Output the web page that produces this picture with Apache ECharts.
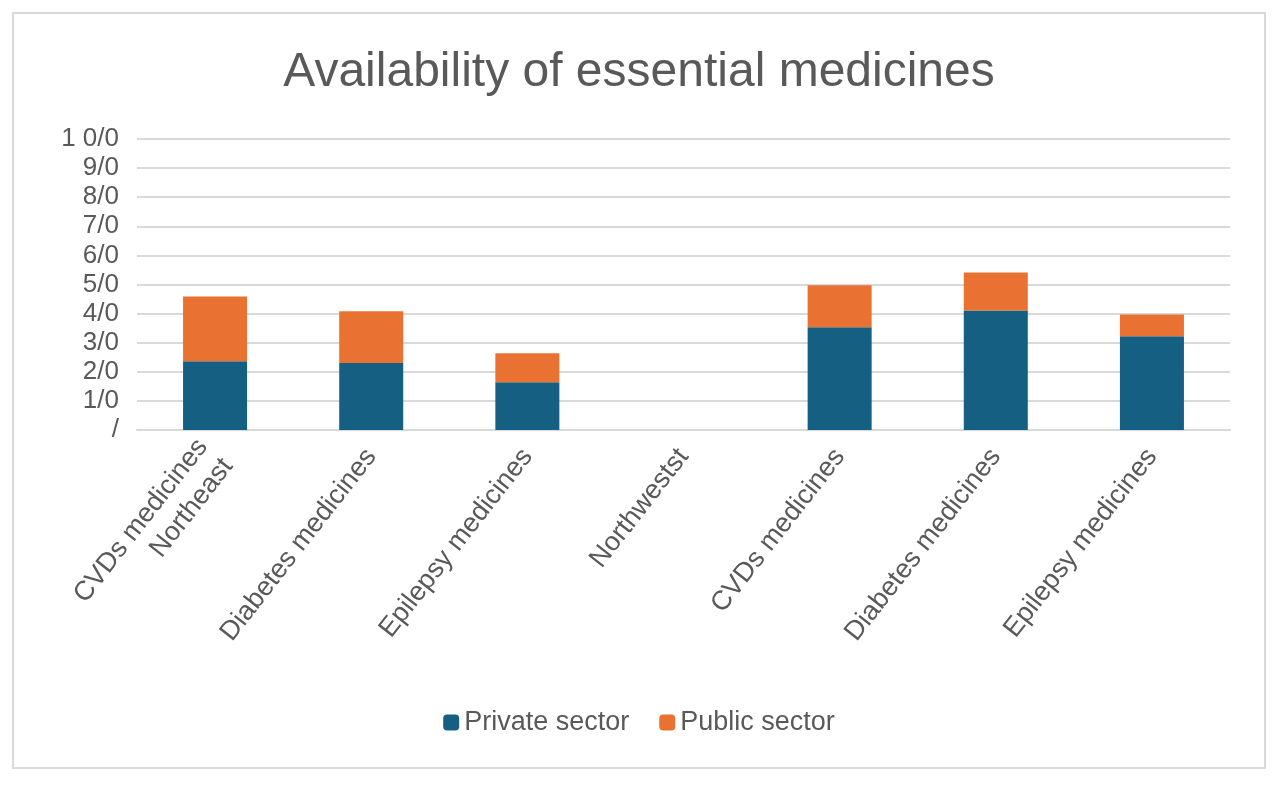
<!DOCTYPE html>
<html lang="en">
<head>
    <meta charset="utf-8">
    <title>Availability of essential medicines</title>
    <script src="https://cdn.jsdelivr.net/npm/echarts@6/dist/echarts.min.js"></script>
    <style>
        body { margin: 0; background: #fff; }
        #container { position: absolute; left: 12px; top: 12px; width: 1254px; height: 757px; border: 2px solid #d9d9d9; box-sizing: border-box; }
    </style>
</head>
<body>
<div id="container"></div>
<script>
    const categories = ["CVDs medicines\nNortheast", "Diabetes medicines", "Epilepsy medicines", "Northwestst",
        "CVDs medicines", "Diabetes medicines", "Epilepsy medicines"];
    const privateSector = [23.6, 23.0, 16.4, null, 35.3, 41.1, 32.2];
    const publicSector = [22.3, 17.8, 10.0, null, 14.4, 13.0, 7.5];
    const tickLabels = ["/", "1/0", "2/0", "3/0", "4/0", "5/0", "6/0", "7/0", "8/0", "9/0", "1 0/0"];

    const option = {
        animation: false,
        textStyle: { fontFamily: "Liberation Sans, Arial, sans-serif" },
        title: {
            text: "Availability of essential medicines",
            left: "center",
            top: 30,
            textStyle: { fontSize: 48, fontWeight: "normal", color: "#595959" }
        },
        legend: {
            bottom: 26,
            itemWidth: 16,
            itemHeight: 16,
            itemGap: 30,
            textStyle: { fontSize: 27, color: "#595959" },
            data: ["Private sector", "Public sector"]
        },
        grid: { left: 123, right: 34, top: 125, bottom: 337 },
        xAxis: {
            type: "category",
            data: categories,
            axisTick: { show: false },
            axisLine: { lineStyle: { color: "#d9d9d9", width: 2 } },
            axisLabel: { rotate: 52, fontSize: 27, color: "#595959", interval: 0, margin: 22, lineHeight: 32 }
        },
        yAxis: {
            type: "value",
            min: 0,
            max: 100,
            interval: 10,
            splitLine: { lineStyle: { color: "#d9d9d9", width: 2 } },
            axisLabel: {
                fontSize: 26, color: "#595959", margin: 18,
                formatter: v => tickLabels[Math.round(v / 10)]
            }
        },
        series: [
            { name: "Private sector", type: "bar", stack: "s", barWidth: "41%", data: privateSector, itemStyle: { color: "#156082" } },
            { name: "Public sector", type: "bar", stack: "s", data: publicSector, itemStyle: { color: "#e97132" } }
        ]
    };

    const chart = echarts.init(document.getElementById("container"));
    chart.setOption(option);
</script>
</body>
</html>
